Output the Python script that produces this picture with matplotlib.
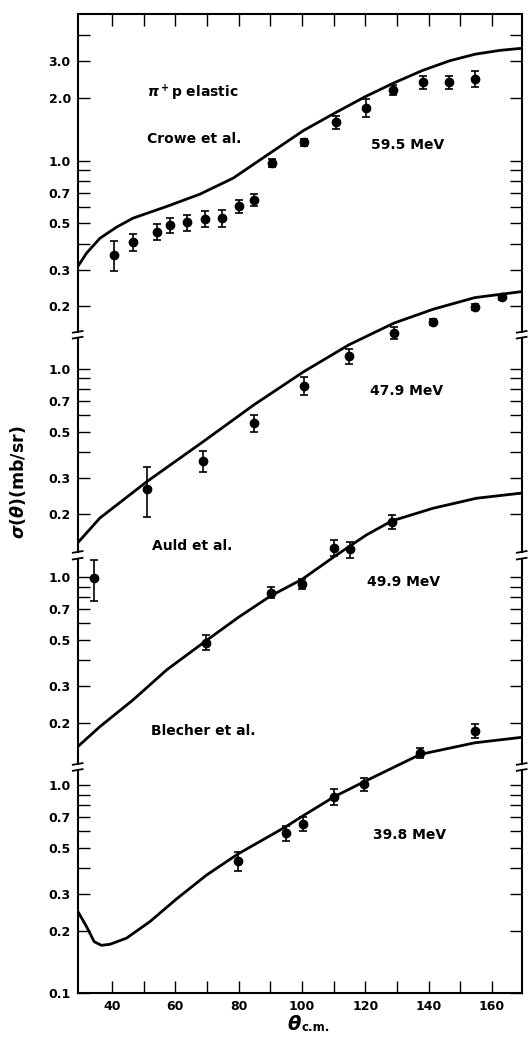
import numpy as np
import matplotlib
matplotlib.use("Agg")
import matplotlib.pyplot as plt
import matplotlib.transforms as mtransforms

plt.rcParams['font.family'] = ['DejaVu Sans']
plt.rcParams['font.weight'] = 'bold'

# --- data ---
# 59.5 MeV, Crowe et al.  (shifted up 3 decades)
th_595 = [40.6, 46.8, 54.1, 58.4, 63.6, 69.3, 74.9, 80.0, 85.0, 90.4, 100.5, 110.7, 120.1, 128.9, 138.1, 146.6, 154.7]
sg_595 = [0.353, 0.407, 0.457, 0.492, 0.505, 0.526, 0.530, 0.603, 0.649, 0.975, 1.224, 1.535, 1.80, 2.19, 2.38, 2.38, 2.47]
er_595 = [0.058, 0.037, 0.039, 0.041, 0.043, 0.045, 0.047, 0.045, 0.044, 0.044, 0.05, 0.11, 0.17, 0.11, 0.18, 0.18, 0.22]
cth_595 = [29.2, 32.0, 36.2, 41.5, 46.7, 57.3, 67.8, 78.3, 89.9, 100.5, 110.7, 120.1, 128.9, 138.1, 146.6, 154.7, 162.5, 169.4]
csg_595 = [0.310, 0.360, 0.424, 0.480, 0.530, 0.603, 0.691, 0.825, 1.087, 1.397, 1.705, 2.035, 2.36, 2.715, 3.02, 3.25, 3.39, 3.47]

# 47.9 MeV, Auld et al.  (shifted up 2 decades)
th_479 = [50.95, 68.9, 84.8, 100.6, 114.9, 129.0, 141.5, 154.6, 163.1]
sg_479 = [0.266, 0.361, 0.550, 0.831, 1.151, 1.494, 1.682, 1.98, 2.21]
er_479 = [0.072, 0.043, 0.05, 0.08, 0.10, 0.10, 0.06, 0.07, 0.06]
cth_479 = [29.2, 36.2, 51.0, 68.9, 84.8, 100.6, 114.8, 129.0, 141.5, 154.6, 169.3]
csg_479 = [0.146, 0.192, 0.287, 0.448, 0.671, 0.97, 1.304, 1.658, 1.936, 2.20, 2.35]

# 49.9 MeV  (shifted up 1 decade)
th_499 = [34.3, 69.8, 90.1, 100.1, 110.2, 115.1, 128.4]
sg_499 = [0.987, 0.484, 0.841, 0.923, 1.384, 1.36, 1.846]
er_499 = [0.22, 0.04, 0.05, 0.05, 0.12, 0.12, 0.14]
cth_499 = [29.2, 36.2, 46.7, 57.3, 69.8, 80.0, 90.1, 100.1, 110.2, 120.4, 128.4, 141.4, 155.1, 169.3]
csg_499 = [0.153, 0.191, 0.257, 0.358, 0.495, 0.641, 0.811, 0.976, 1.253, 1.594, 1.86, 2.14, 2.39, 2.53]

# 39.8 MeV, Blecher et al.  (no shift)
th_398 = [79.8, 94.9, 100.2, 110.2, 119.6, 137.4, 154.6]
sg_398 = [0.432, 0.587, 0.650, 0.88, 1.01, 1.431, 1.826]
er_398 = [0.045, 0.05, 0.05, 0.08, 0.07, 0.08, 0.14]
cth_398 = [29.2, 32.0, 34.4, 36.7, 39.4, 44.6, 52.0, 60.4, 69.9, 79.8, 94.9, 100.2, 110.2, 119.6, 137.4, 154.6, 169.3]
csg_398 = [0.248, 0.209, 0.177, 0.170, 0.172, 0.184, 0.221, 0.284, 0.370, 0.467, 0.631, 0.710, 0.88, 1.038, 1.406, 1.598, 1.697]

sets = [
    (th_595, sg_595, er_595, cth_595, csg_595, 3),
    (th_479, sg_479, er_479, cth_479, csg_479, 2),
    (th_499, sg_499, er_499, cth_499, csg_499, 1),
    (th_398, sg_398, er_398, cth_398, csg_398, 0),
]

# axis segments (log10 of plotted value) for each shifted panel
segments = {3: (2.178, 3.705), 2: (1.1206, 2.150), 1: (0.1019, 1.0884), 0: (-1.0, 0.073)}
lab_ticks = [0.1, 0.2, 0.3, 0.5, 0.7, 1.0, 2.0, 3.0]
unlab_ticks = [0.4, 0.6, 0.8, 0.9, 4.0]

fig = plt.figure(figsize=(5.3, 10.4), dpi=100)
ax = fig.add_axes([77.7 / 530, 1 - 993.3 / 1040, 444 / 530, 979.3 / 1040])
ax.set_yscale('log')
ax.set_xlim(29.2, 169.4)
ax.set_ylim(0.1, 10 ** 3.705)

for th, sg, er, cth, csg, k in sets:
    f = 10.0 ** k
    ax.plot(cth, np.array(csg) * f, color='k', lw=2.0, solid_capstyle='round')
    ax.errorbar(th, np.array(sg) * f, yerr=np.array(er) * f, fmt='o', color='k',
                ms=6, capsize=3, elinewidth=1.2, capthick=1.2)

# y ticks per segment
pos, labs = [], []
for k, (lo, hi) in segments.items():
    for v in sorted(lab_ticks + unlab_ticks):
        p = v * 10.0 ** k
        if 10 ** lo <= p * 1.0001 and p <= 10 ** hi:
            pos.append(p)
            labs.append(f"{v:.1f}" if v in lab_ticks else "")
ax.set_yticks(pos, labs)
ax.yaxis.set_minor_locator(matplotlib.ticker.NullLocator())

ax.set_xticks([40, 60, 80, 100, 120, 140, 160])
ax.set_xticks([50, 70, 90, 110, 130, 150], minor=True)
ax.tick_params(which='both', direction='in', length=8.6, width=1.0,
               top=True, right=True, labelsize=9, pad=5)

# broken left/right spines
for s in ['left', 'right']:
    ax.spines[s].set_visible(False)
for s in ['top', 'bottom']:
    ax.spines[s].set_linewidth(1.5)
trans = mtransforms.blended_transform_factory(ax.transAxes, ax.transData)
for xa in (0.0, 1.0):
    for k, (lo, hi) in segments.items():
        ax.plot([xa, xa], [10 ** lo, 10 ** hi], transform=trans, color='k',
                lw=1.5, clip_on=False)
        for u in (lo, hi):
            if -1.0 < u < 3.7:
                ax.plot([xa - 0.011, xa + 0.011], [10 ** (u - 0.004), 10 ** (u + 0.004)],
                        transform=trans, color='k', lw=1.3, clip_on=False)

# labels
fig.text(18.5 / 530, 1 - 482 / 1040, r'$\sigma(\theta)$(mb/sr)', rotation=90,
         fontsize=12.5, ha='center', va='center')
fig.text(286.7 / 530, 1 - 1030 / 1040, r'$\theta$', fontsize=14, ha='left', va='baseline')
fig.text(301 / 530, 1 - 1031 / 1040, 'c.m.', fontsize=8.5, ha='left', va='baseline')

notes = [
    (r'$\pi^+$p elastic', 147, 97.7),
    ('Crowe et al.', 147, 142.7),
    ('59.5 MeV', 371, 149.3),
    ('47.9 MeV', 370, 395),
    ('Auld et al.', 151.7, 550),
    ('49.9 MeV', 366.7, 586),
    ('Blecher et al.', 150.7, 735),
    ('39.8 MeV', 372.7, 839.3),
]
for txt, x, y in notes:
    fig.text(x / 530, 1 - y / 1040, txt, fontsize=10, ha='left', va='baseline')

fig.savefig('out.png', dpi=100)
